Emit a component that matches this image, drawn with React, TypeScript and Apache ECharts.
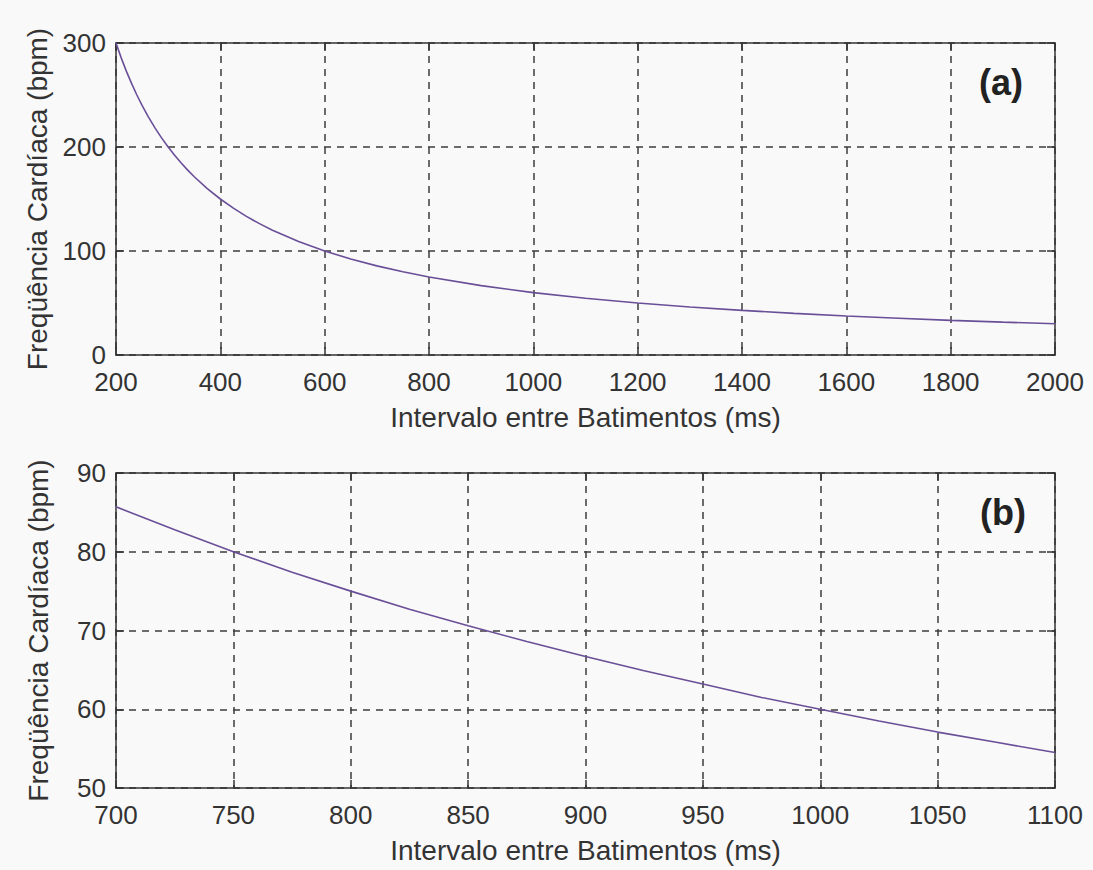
import React, { useEffect, useRef } from "react";
import * as echarts from "echarts";

// Panel (a): heart rate versus RR interval over the full range
const rrA = [200, 210, 220, 230, 240, 250, 262, 275, 287, 300, 312, 325, 337, 350, 375, 400, 425, 450, 475, 500, 550, 600, 650, 700, 750, 800, 900, 1000, 1100, 1200, 1300, 1400, 1500, 1600, 1700, 1800, 1900, 2000];
const hrA = [300, 285.7, 272.7, 260.9, 250, 240, 229, 218.2, 209, 200, 192.3, 184.6, 178, 171.4, 160, 150, 141.2, 133.3, 126.3, 120, 109.1, 100, 92.3, 85.7, 80, 75, 66.7, 60, 54.5, 50, 46.2, 42.9, 40, 37.5, 35.3, 33.3, 31.6, 30];

// Panel (b): zoom on the 700–1100 ms range
const rrB = [700, 725, 750, 775, 800, 825, 850, 875, 900, 925, 950, 975, 1000, 1025, 1050, 1075, 1100];
const hrB = [85.7, 82.8, 80, 77.4, 75, 72.7, 70.6, 68.6, 66.7, 64.9, 63.2, 61.5, 60, 58.5, 57.1, 55.8, 54.5];

const xLabel = "Intervalo entre Batimentos (ms)";
const yLabel = "Freqüência Cardíaca (bpm)";
const panelTags = ["(a)", "(b)"];

const FONT = "Liberation Sans, Arial, sans-serif";
const TEXT = "#333333";
const AXIS = "#333333";
const LINE = "#6a4f98";

export default function App() {
  const ref = useRef<HTMLDivElement>(null);

  useEffect(() => {
    document.body.style.margin = "0";
    if (!ref.current) return;
    const chart = echarts.init(ref.current, null, { renderer: "svg" });

    const grids = [
      { left: 116, top: 43, width: 939, height: 312 },
      { left: 116, top: 473, width: 939, height: 315 },
    ];
    const ranges = [
      { xMin: 200, xMax: 2000, xInt: 200, yMin: 0, yMax: 300, yInt: 100 },
      { xMin: 700, xMax: 1100, xInt: 50, yMin: 50, yMax: 90, yInt: 10 },
    ];

    const split = { show: true, lineStyle: { color: "#3c3c3c", type: [7, 6] as any, width: 1.5 } };
    const tick = { show: true, inside: true, length: 8, lineStyle: { color: AXIS, width: 1.5 } };
    const axisLine = { show: true, onZero: false, lineStyle: { color: AXIS, width: 1.5 } };
    const fmt = (v: number) => String(v);
    const xTickLabel = { color: TEXT, fontFamily: FONT, fontSize: 26, margin: 14, formatter: fmt };
    const yTickLabel = { color: TEXT, fontFamily: FONT, fontSize: 26, margin: 10, padding: [0, 0, 4, 0], formatter: fmt };
    const nameStyle = { color: TEXT, fontFamily: FONT, fontSize: 28 };

    const xAxis: any[] = [];
    const yAxis: any[] = [];
    ranges.forEach((r, i) => {
      xAxis.push({
        type: "value", gridIndex: i, position: "bottom", min: r.xMin, max: r.xMax, interval: r.xInt,
        name: xLabel, nameLocation: "middle", nameGap: 48, nameTextStyle: nameStyle,
        axisLine, axisTick: tick, axisLabel: xTickLabel, splitLine: split,
      });
      xAxis.push({
        type: "value", gridIndex: i, position: "top", min: r.xMin, max: r.xMax, interval: r.xInt,
        axisLine, axisTick: tick, axisLabel: { show: false }, splitLine: { show: false },
      });
      yAxis.push({
        type: "value", gridIndex: i, position: "left", min: r.yMin, max: r.yMax, interval: r.yInt,
        name: yLabel, nameLocation: "middle", nameGap: 64, nameTextStyle: nameStyle,
        axisLine, axisTick: tick, axisLabel: yTickLabel, splitLine: split,
      });
      yAxis.push({
        type: "value", gridIndex: i, position: "right", min: r.yMin, max: r.yMax, interval: r.yInt,
        axisLine, axisTick: tick, axisLabel: { show: false }, splitLine: { show: false },
      });
    });

    const mk = (xs: number[], ys: number[]) => xs.map((x, i) => [x, ys[i]]);

    chart.setOption({
      animation: false,
      backgroundColor: "#f9f9f9",
      grid: grids.map((g) => ({ ...g, containLabel: false })),
      xAxis,
      yAxis,
      series: [
        {
          type: "line", xAxisIndex: 0, yAxisIndex: 0, data: mk(rrA, hrA),
          showSymbol: false, lineStyle: { color: LINE, width: 1.6 },
        },
        {
          type: "line", xAxisIndex: 2, yAxisIndex: 2, data: mk(rrB, hrB),
          showSymbol: false, lineStyle: { color: LINE, width: 1.6 },
        },
      ],
      graphic: [
        {
          type: "text", left: 979, top: 64,
          style: { text: panelTags[0], fill: "#222222", font: `bold 36px ${FONT}` },
        },
        {
          type: "text", left: 980, top: 494,
          style: { text: panelTags[1], fill: "#222222", font: `bold 36px ${FONT}` },
        },
      ],
    });

    return () => chart.dispose();
  }, []);

  return (
    <div
      ref={ref}
      style={{ position: "absolute", left: 0, top: 0, width: 1093, height: 870 }}
    />
  );
}
